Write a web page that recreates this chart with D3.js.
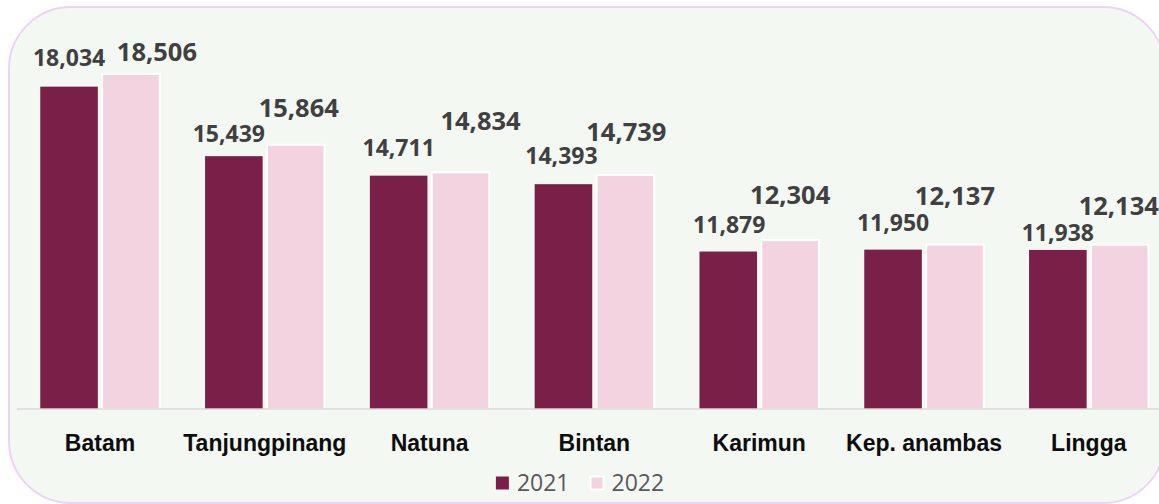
<!DOCTYPE html>
<html>
<head>
<meta charset="utf-8">
<script src="https://d3js.org/d3.v7.min.js"></script>
<style>
  html, body { margin: 0; padding: 0; background: #fff; }
  #chart { width: 1159px; height: 504px; font-family: 'Open Sans', 'Noto Sans', Arial, sans-serif; }
  .value { font-weight: 700; fill: #404040; }
  .cat text { font-weight: 700; fill: #0d0d0d; font-size: 23px; }
  .legend text { fill: #595959; font-size: 23px; }
</style>
</head>
<body>
<div id="chart"></div>
<script>
  const regions = ["Batam", "Tanjungpinang", "Natuna", "Bintan", "Karimun", "Kep. anambas", "Lingga"];
  const years = ["2021", "2022"];
  const values2021 = [18034, 15439, 14711, 14393, 11879, 11950, 11938];
  const values2022 = [18506, 15864, 14834, 14739, 12304, 12137, 12134];

  // hand-placed label nudges from the original (px): [dx, lift above bar top]
  const nudge2021 = [[0, 21], [-5, 14], [0, 20], [-2, 20], [1, 19], [0, 19], [0, 9]];
  const nudge2022 = [[26, 13], [3, 28], [20, 42], [1, 34], [0, 36], [0, 40], [-1, 30]];

  const colors = { "2021": "#7a1f47", "2022": "#f3d3e0" };
  const W = 1159, H = 504;

  const rows = regions.map((r, i) => ({
    region: r,
    bars: [
      { year: "2021", value: values2021[i], nudge: nudge2021[i] },
      { year: "2022", value: values2022[i], nudge: nudge2022[i] }
    ]
  }));

  const svg = d3.select("#chart").append("svg")
    .attr("width", W)
    .attr("height", H);

  // rounded panel
  svg.append("rect")
    .attr("x", 9).attr("y", 7)
    .attr("width", 1156).attr("height", 496)
    .attr("rx", 62).attr("ry", 62)
    .attr("fill", "#f4f8f3")
    .attr("stroke", "#eed2f6")
    .attr("stroke-width", 2);

  const x0 = d3.scaleBand()
    .domain(regions)
    .range([17.6, 1171.2])
    .paddingInner(0.275)
    .paddingOuter(0.1375);

  const x1 = d3.scaleBand()
    .domain(years)
    .range([0, x0.bandwidth()])
    .paddingInner(0.07);

  const y = d3.scaleLinear()
    .domain([6000, 20000])
    .range([409, 34]);

  const group = svg.append("g").selectAll("g")
    .data(rows)
    .enter().append("g")
    .attr("transform", d => `translate(${x0(d.region)},0)`);

  group.selectAll("rect")
    .data(d => d.bars)
    .enter().append("rect")
    .attr("x", d => x1(d.year))
    .attr("y", d => y(d.value))
    .attr("width", x1.bandwidth())
    .attr("height", d => y.range()[0] - y(d.value))
    .attr("fill", d => colors[d.year])
    .attr("stroke", d => d.year === "2022" ? "#fff" : "none")
    .attr("stroke-width", 2);

  group.selectAll("text")
    .data(d => d.bars)
    .enter().append("text")
    .attr("class", "value")
    .attr("x", d => x1(d.year) + x1.bandwidth() / 2 + d.nudge[0])
    .attr("y", d => y(d.value) - d.nudge[1])
    .attr("text-anchor", "middle")
    .style("font-size", d => d.year === "2022" ? "25.5px" : "23px")
    .text(d => d3.format(",")(d.value));

  // category axis
  const axis = svg.append("g")
    .attr("class", "cat")
    .attr("transform", `translate(0,${y.range()[0]})`)
    .call(d3.axisBottom(x0).tickSize(0).tickPadding(26));
  axis.select(".domain")
    .attr("stroke", "#d9d9d9")
    .attr("stroke-width", 1.5)
    .attr("d", "M17,0H1171");
  axis.selectAll("text").attr("font-family", null).attr("font-size", null);

  // legend
  const legend = svg.append("g").attr("class", "legend");
  const items = legend.selectAll("g")
    .data(years)
    .enter().append("g");
  items.append("rect")
    .attr("width", 13).attr("height", 13)
    .attr("y", -6.5)
    .attr("fill", d => colors[d])
    .attr("stroke", d => d === "2022" ? "#fff" : "none")
    .attr("stroke-width", 2);
  items.append("text")
    .attr("x", 21)
    .attr("dy", "0.35em")
    .text(d => d);

  let offset = 0;
  items.each(function() {
    const g = d3.select(this);
    g.attr("transform", `translate(${offset},0)`);
    offset += this.getBBox().width + 21;
  });
  const total = offset - 21;
  legend.attr("transform", `translate(${580 - total / 2},483)`);
</script>
</body>
</html>
